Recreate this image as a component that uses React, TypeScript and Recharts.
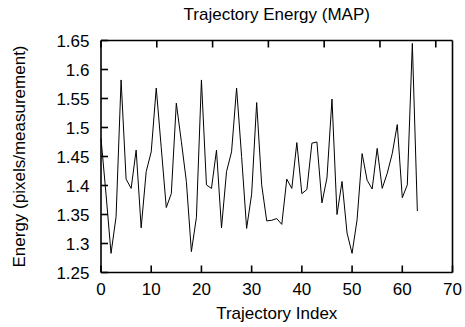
import { LineChart, Line, XAxis, YAxis } from "recharts";

// energy per trajectory, index 0..63
const energy = [
  1.481, 1.385, 1.283, 1.346, 1.582, 1.411, 1.395, 1.461, 1.327, 1.424,
  1.458, 1.568, 1.465, 1.362, 1.386, 1.542, 1.476, 1.407, 1.286, 1.345,
  1.582, 1.401, 1.395, 1.461, 1.327, 1.424, 1.458, 1.568, 1.45, 1.326,
  1.385, 1.543, 1.401, 1.339, 1.34, 1.343, 1.333, 1.411, 1.395, 1.474,
  1.386, 1.393, 1.473, 1.475, 1.37, 1.413, 1.549, 1.35, 1.407, 1.318,
  1.283, 1.341, 1.455, 1.409, 1.394, 1.464, 1.395, 1.421, 1.455, 1.505,
  1.379, 1.401, 1.645, 1.356,
];

const xTicks = [0, 10, 20, 30, 40, 50, 60, 70];
const yTicks = [1.25, 1.3, 1.35, 1.4, 1.45, 1.5, 1.55, 1.6, 1.65];

const data = energy.map((e, i) => ({ index: i, energy: e }));

const font = "'Liberation Sans', Arial, sans-serif";
const tickStyle = { fontSize: 17, fill: "#000", fontFamily: font };
const axisStroke = { stroke: "#000", strokeWidth: 1.6 };

export default function App() {
  return (
    <div style={{ position: "absolute", left: 0, top: 0, background: "#fff" }}>
      <LineChart
        width={465}
        height={327}
        data={data}
        margin={{ top: 0, right: 0, bottom: 0, left: 0 }}
        style={{ fontFamily: font }}
      >
        <XAxis
          dataKey="index"
          type="number"
          domain={[0, 70]}
          ticks={xTicks}
          interval={0}
          height={54.5}
          tick={tickStyle}
          tickSize={-7}
          tickMargin={17.5}
          tickLine={axisStroke}
          axisLine={axisStroke}
          label={{
            value: "Trajectory Index",
            position: "insideBottom",
            offset: 8.5,
            fontSize: 17,
            fill: "#000",
          }}
        />
        <XAxis
          xAxisId="top"
          orientation="top"
          type="number"
          domain={[0, 70]}
          ticks={xTicks}
          interval={0}
          height={40.5}
          tickFormatter={() => ""}
          tickSize={-7}
          tickLine={axisStroke}
          axisLine={axisStroke}
          label={{
            value: "Trajectory Energy (MAP)",
            position: "insideTop",
            offset: 8,
            fontSize: 17,
            fill: "#000",
          }}
        />
        <YAxis
          type="number"
          domain={[1.25, 1.65]}
          ticks={yTicks}
          interval={0}
          width={101}
          tick={tickStyle}
          tickFormatter={(v) => String(v)}
          tickSize={-7}
          tickMargin={18.5}
          tickLine={axisStroke}
          axisLine={axisStroke}
          label={{
            value: "Energy (pixels/measurement)",
            angle: -90,
            position: "insideLeft",
            offset: 19,
            fontSize: 17,
            fill: "#000",
            style: { textAnchor: "middle" },
          }}
        />
        <YAxis
          yAxisId="right"
          orientation="right"
          type="number"
          domain={[1.25, 1.65]}
          ticks={yTicks}
          interval={0}
          width={12.5}
          tickFormatter={() => ""}
          tickSize={-7}
          tickLine={axisStroke}
          axisLine={axisStroke}
        />
        <Line
          type="linear"
          dataKey="energy"
          stroke="#000"
          strokeWidth={1}
          dot={false}
          isAnimationActive={false}
        />
      </LineChart>
    </div>
  );
}
